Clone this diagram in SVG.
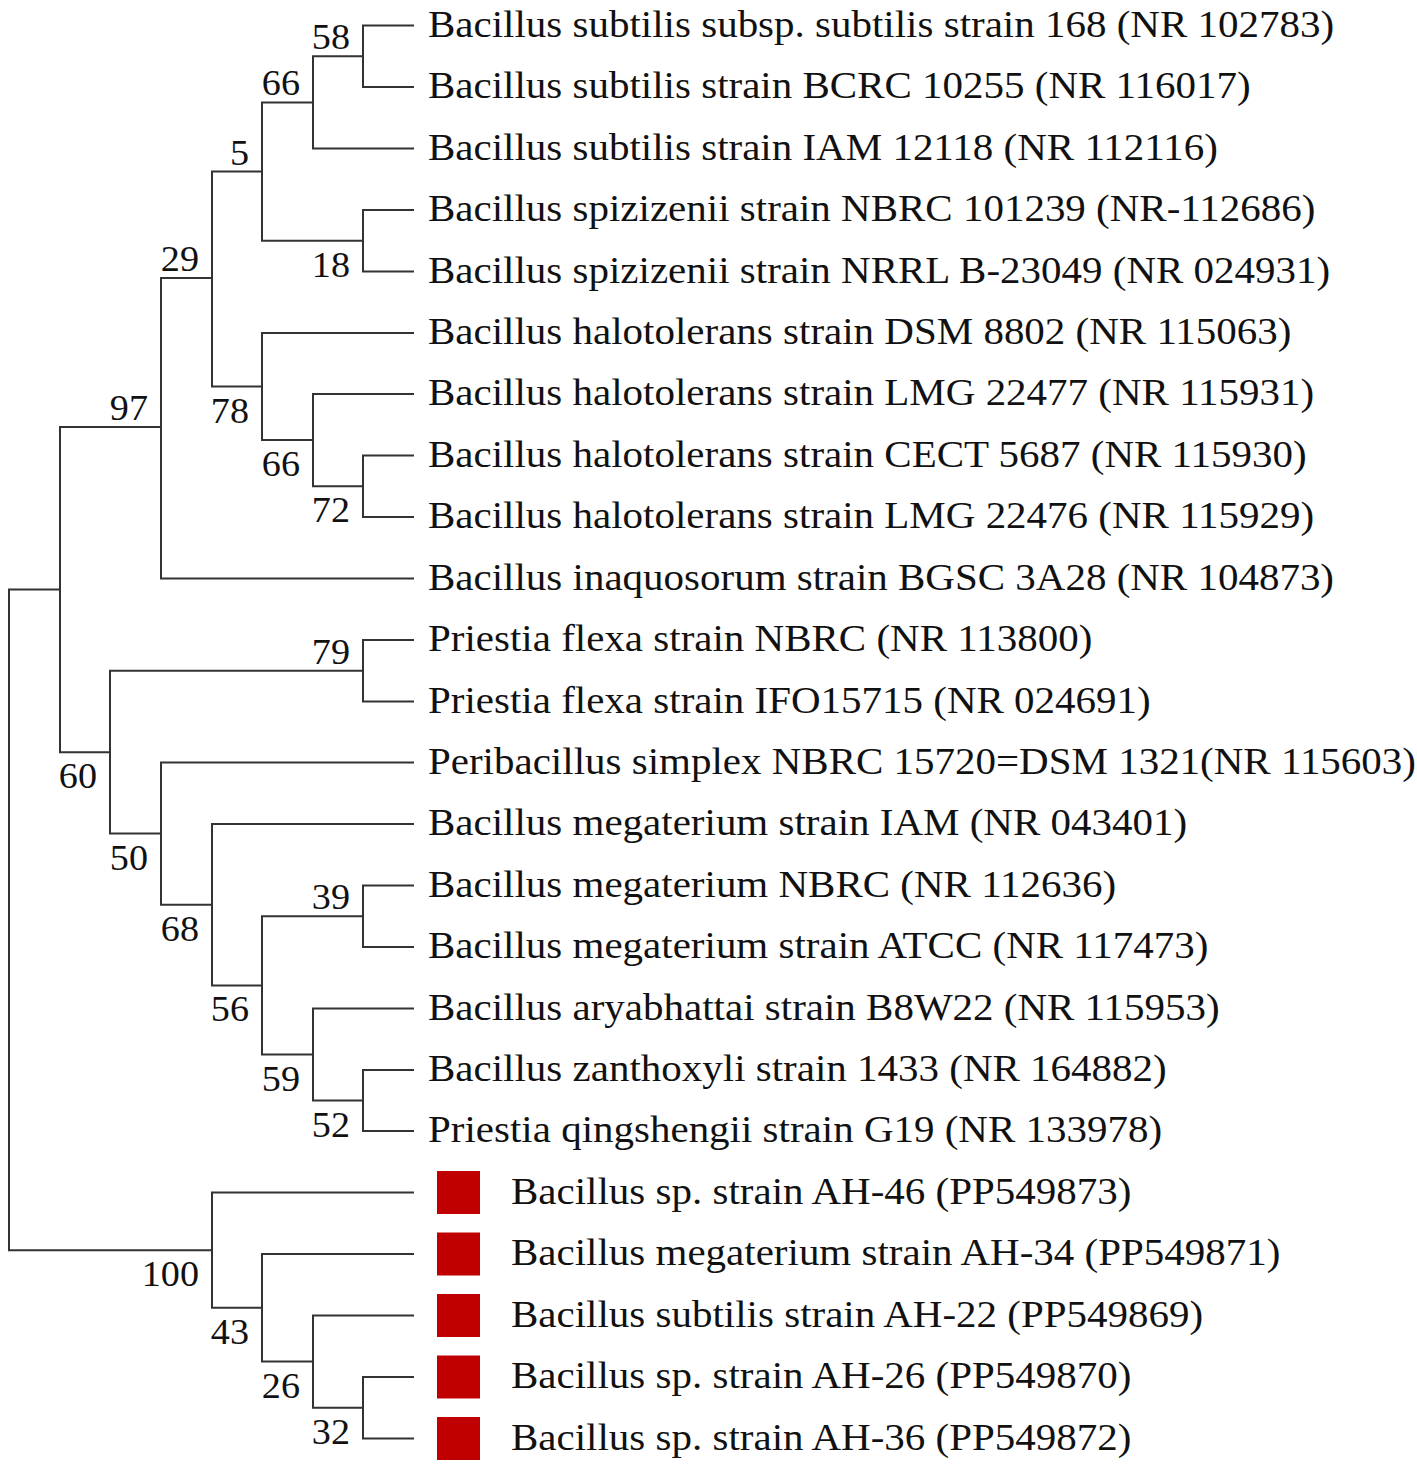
<svg xmlns="http://www.w3.org/2000/svg" width="1417" height="1469" viewBox="0 0 1417 1469">
<style>
.br{fill:none;stroke:#333;stroke-width:2;stroke-linecap:square}
.lf{font-family:"Liberation Serif","Times New Roman",serif;font-size:37px;fill:#111}
.bs{font-family:"Liberation Serif","Times New Roman",serif;font-size:36px;fill:#111;text-anchor:end}
.mk{fill:#C00000}
</style>
<rect width="1417" height="1469" fill="#fff"/>
<g id="connectors">
<path class="br" d="M60 589.6 H9 V1250.2 H212"/>
<path class="br" d="M161 427 H60 V752.2 H110"/>
<path class="br" d="M212 278 H161 V578.5 H413"/>
<path class="br" d="M262 171.6 H212 V386.6 H262"/>
<path class="br" d="M313 102.4 H262 V240.8 H363"/>
<path class="br" d="M363 56.3 H313 V148.5 H413"/>
<path class="br" d="M413 25.5 H363 V87 H413"/>
<path class="br" d="M413 210 H363 V271.5 H413"/>
<path class="br" d="M413 333 H262 V440.1 H313"/>
<path class="br" d="M413 394 H313 V486.3 H363"/>
<path class="br" d="M413 455.5 H363 V517 H413"/>
<path class="br" d="M363 670.8 H110 V833.6 H161"/>
<path class="br" d="M413 640 H363 V701.5 H413"/>
<path class="br" d="M413 762.5 H161 V904.7 H212"/>
<path class="br" d="M413 824 H212 V985.4 H262"/>
<path class="br" d="M363 916.3 H262 V1054.5 H313"/>
<path class="br" d="M413 885.5 H363 V947 H413"/>
<path class="br" d="M413 1008.5 H313 V1100.5 H363"/>
<path class="br" d="M413 1070 H363 V1131 H413"/>
<path class="br" d="M413 1192.5 H212 V1307.8 H262"/>
<path class="br" d="M413 1254 H262 V1361.6 H313"/>
<path class="br" d="M413 1315.5 H313 V1407.8 H363"/>
<path class="br" d="M413 1377 H363 V1438.5 H413"/>
</g>
<g id="bootstrap">
<text class="bs" transform="translate(350 49.3) scale(1.06 1)">58</text>
<text class="bs" transform="translate(300 95.4) scale(1.06 1)">66</text>
<text class="bs" transform="translate(249 164.6) scale(1.06 1)">5</text>
<text class="bs" transform="translate(350 276.8) scale(1.06 1)">18</text>
<text class="bs" transform="translate(199 271) scale(1.06 1)">29</text>
<text class="bs" transform="translate(249 422.6) scale(1.06 1)">78</text>
<text class="bs" transform="translate(300 476.1) scale(1.06 1)">66</text>
<text class="bs" transform="translate(350 522.3) scale(1.06 1)">72</text>
<text class="bs" transform="translate(148 420) scale(1.06 1)">97</text>
<text class="bs" transform="translate(350 663.8) scale(1.06 1)">79</text>
<text class="bs" transform="translate(97 788.2) scale(1.06 1)">60</text>
<text class="bs" transform="translate(148 869.6) scale(1.06 1)">50</text>
<text class="bs" transform="translate(199 940.7) scale(1.06 1)">68</text>
<text class="bs" transform="translate(350 909.3) scale(1.06 1)">39</text>
<text class="bs" transform="translate(249 1021.4) scale(1.06 1)">56</text>
<text class="bs" transform="translate(300 1090.5) scale(1.06 1)">59</text>
<text class="bs" transform="translate(350 1136.5) scale(1.06 1)">52</text>
<text class="bs" transform="translate(199 1286.2) scale(1.06 1)">100</text>
<text class="bs" transform="translate(249 1343.8) scale(1.06 1)">43</text>
<text class="bs" transform="translate(300 1397.6) scale(1.06 1)">26</text>
<text class="bs" transform="translate(350 1443.8) scale(1.06 1)">32</text>
</g>
<g id="leaf0"><text class="lf" transform="translate(428 36.5) scale(1.108 1)">Bacillus subtilis subsp. subtilis strain 168 (NR 102783)</text></g>
<g id="leaf1"><text class="lf" transform="translate(428 98) scale(1.108 1)">Bacillus subtilis strain BCRC 10255 (NR 116017)</text></g>
<g id="leaf2"><text class="lf" transform="translate(428 159.5) scale(1.108 1)">Bacillus subtilis strain IAM 12118 (NR 112116)</text></g>
<g id="leaf3"><text class="lf" transform="translate(428 221) scale(1.108 1)">Bacillus spizizenii strain NBRC 101239 (NR-112686)</text></g>
<g id="leaf4"><text class="lf" transform="translate(428 282.5) scale(1.108 1)">Bacillus spizizenii strain NRRL B-23049 (NR 024931)</text></g>
<g id="leaf5"><text class="lf" transform="translate(428 344) scale(1.108 1)">Bacillus halotolerans strain DSM 8802 (NR 115063)</text></g>
<g id="leaf6"><text class="lf" transform="translate(428 405) scale(1.108 1)">Bacillus halotolerans strain LMG 22477 (NR 115931)</text></g>
<g id="leaf7"><text class="lf" transform="translate(428 466.5) scale(1.108 1)">Bacillus halotolerans strain CECT 5687 (NR 115930)</text></g>
<g id="leaf8"><text class="lf" transform="translate(428 528) scale(1.108 1)">Bacillus halotolerans strain LMG 22476 (NR 115929)</text></g>
<g id="leaf9"><text class="lf" transform="translate(428 589.5) scale(1.108 1)">Bacillus inaquosorum strain BGSC 3A28 (NR 104873)</text></g>
<g id="leaf10"><text class="lf" transform="translate(428 651) scale(1.108 1)">Priestia flexa strain NBRC (NR 113800)</text></g>
<g id="leaf11"><text class="lf" transform="translate(428 712.5) scale(1.108 1)">Priestia flexa strain IFO15715 (NR 024691)</text></g>
<g id="leaf12"><text class="lf" transform="translate(428 773.5) scale(1.108 1)">Peribacillus simplex NBRC 15720=DSM 1321(NR 115603)</text></g>
<g id="leaf13"><text class="lf" transform="translate(428 835) scale(1.108 1)">Bacillus megaterium strain IAM (NR 043401)</text></g>
<g id="leaf14"><text class="lf" transform="translate(428 896.5) scale(1.108 1)">Bacillus megaterium NBRC (NR 112636)</text></g>
<g id="leaf15"><text class="lf" transform="translate(428 958) scale(1.108 1)">Bacillus megaterium strain ATCC (NR 117473)</text></g>
<g id="leaf16"><text class="lf" transform="translate(428 1019.5) scale(1.108 1)">Bacillus aryabhattai strain B8W22 (NR 115953)</text></g>
<g id="leaf17"><text class="lf" transform="translate(428 1081) scale(1.108 1)">Bacillus zanthoxyli strain 1433 (NR 164882)</text></g>
<g id="leaf18"><text class="lf" transform="translate(428 1142) scale(1.108 1)">Priestia qingshengii strain G19 (NR 133978)</text></g>
<g id="leaf19"><rect class="mk" x="437" y="1171" width="43" height="43"/><text class="lf" transform="translate(511 1203.5) scale(1.108 1)">Bacillus sp. strain AH-46 (PP549873)</text></g>
<g id="leaf20"><rect class="mk" x="437" y="1232.5" width="43" height="43"/><text class="lf" transform="translate(511 1265) scale(1.108 1)">Bacillus megaterium strain AH-34 (PP549871)</text></g>
<g id="leaf21"><rect class="mk" x="437" y="1294" width="43" height="43"/><text class="lf" transform="translate(511 1326.5) scale(1.108 1)">Bacillus subtilis strain AH-22 (PP549869)</text></g>
<g id="leaf22"><rect class="mk" x="437" y="1355.5" width="43" height="43"/><text class="lf" transform="translate(511 1388) scale(1.108 1)">Bacillus sp. strain AH-26 (PP549870)</text></g>
<g id="leaf23"><rect class="mk" x="437" y="1417" width="43" height="43"/><text class="lf" transform="translate(511 1449.5) scale(1.108 1)">Bacillus sp. strain AH-36 (PP549872)</text></g>
</svg>
